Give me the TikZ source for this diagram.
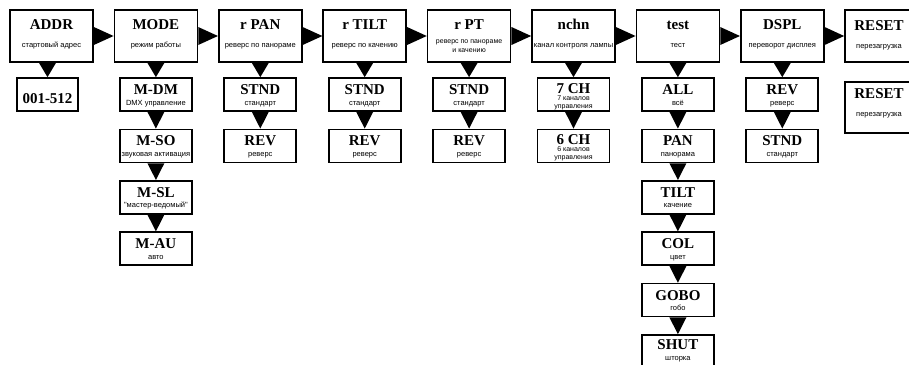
\documentclass[tikz,border=0pt]{standalone}
\usepackage{fontspec}
\setmainfont{Liberation Serif}
\newfontfamily\rusfont{Liberation Sans}
\usetikzlibrary{calc}
\tikzset{
  box/.style={draw=black, line width=1.7pt, fill=white, rectangle, inner sep=0pt},
  topbox/.style={box, minimum width=83pt, minimum height=52pt},
  subbox/.style={box, minimum width=72pt, minimum height=33pt},
  ttl/.style={anchor=base, inner sep=0pt, font=\bfseries\fontsize{15}{15}\selectfont},
  sml/.style={anchor=base, inner sep=0pt, font=\rusfont\fontsize{7.5}{8.5}\selectfont},
  smlb/.style={anchor=base, inner sep=0pt, font=\rusfont\fontsize{7}{8}\selectfont},
  tri/.style={fill=black},
}
\newcommand\TopBox[4]{%
  \node[topbox] (#1) at (#2,36) {};
  \node[ttl] (#1-t) at (#2,29.5) {#3};
  \node[sml] (#1-s) at (#2,47) {#4};
}
\newcommand\SubBox[5]{%
  \node[subbox] (#1) at (#2,#3+16.5) {};
  \node[ttl] (#1-t) at (#2,#3+16.5) {#4};
  \node[sml] (#1-s) at (#2,#3+27) {#5};
}
\newcommand\RArr[2]{\fill[tri] ($(#1.east)+(0,-9)$) -- ($(#1.east)+(0,9)$) -- (#2.west) -- cycle;}
\newcommand\DArr[2]{\fill[tri] ($(#2.north |- #1.south)+(-8.5,0)$) -- ($(#2.north |- #1.south)+(8.5,0)$) -- (#2.north) -- cycle;}
\begin{document}
\begin{tikzpicture}[x=1pt,y=-1pt]
\useasboundingbox (0,0) rectangle (909,364);
\clip (0,0) rectangle (909,364);
\fill[white] (0,0) rectangle (909,364);

% top row
\TopBox{addr}{51.5}{ADDR}{стартовый адрес}
\TopBox{mode}{155.9}{MODE}{режим работы}
\TopBox{rpan}{260.3}{r PAN}{реверс по панораме}
\TopBox{rtilt}{364.7}{r TILT}{реверс по качению}
\node[topbox] (rpt) at (469.1,36) {};
\node[ttl] (rpt-t) at (469.1,29.5) {r PT};
\node[smlb] (rpt-s1) at (469.1,43.5) {реверс по панораме};
\node[smlb] (rpt-s2) at (469.1,52.5) {и качению};
\TopBox{nchn}{573.5}{nchn}{канал контроля лампы}
\TopBox{test}{677.9}{test}{тест}
\TopBox{dspl}{782.3}{DSPL}{переворот дисплея}
\node[topbox, minimum width=67pt] (reset) at (878.5,36) {};
\node[ttl] (reset-t) at (879,30) {RESET};
\node[sml] (reset-s) at (879,48) {перезагрузка};

% ADDR column
\node[box, minimum width=61pt, minimum height=33pt] (addr1) at (47.5,94.5) {};
\node[ttl] (addr1-t) at (47.5,103) {001-512};

% MODE column
\SubBox{mdm}{155.9}{78}{M-DM}{DMX управление}
\SubBox{mso}{155.9}{129.4}{M-SO}{звуковая активация}
\SubBox{msl}{155.9}{180.8}{M-SL}{"мастер-ведомый"}
\SubBox{mau}{155.9}{232.2}{M-AU}{авто}

% r PAN column
\SubBox{rpan1}{260.3}{78}{STND}{стандарт}
\SubBox{rpan2}{260.3}{129.4}{REV}{реверс}

% r TILT column
\SubBox{rtilt1}{364.7}{78}{STND}{стандарт}
\SubBox{rtilt2}{364.7}{129.4}{REV}{реверс}

% r PT column
\SubBox{rpt1}{469.1}{78}{STND}{стандарт}
\SubBox{rpt2}{469.1}{129.4}{REV}{реверс}

% nchn column
\node[subbox] (ch7) at (573.5,94.5) {};
\node[ttl] (ch7-t) at (573.5,93.5) {7 CH};
\node[smlb] (ch7-s1) at (573.5,100.5) {7 каналов};
\node[smlb] (ch7-s2) at (573.5,108.5) {управления};
\node[subbox] (ch6) at (573.5,145.9) {};
\node[ttl] (ch6-t) at (573.5,144.9) {6 CH};
\node[smlb] (ch6-s1) at (573.5,151.9) {6 каналов};
\node[smlb] (ch6-s2) at (573.5,159.9) {управления};

% test column
\SubBox{tall}{677.9}{78}{ALL}{всё}
\SubBox{tpan}{677.9}{129.4}{PAN}{панорама}
\SubBox{ttilt}{677.9}{180.8}{TILT}{качение}
\SubBox{tcol}{677.9}{232.2}{COL}{цвет}
\SubBox{tgobo}{677.9}{283.6}{GOBO}{гобо}
\node[subbox] (tshut) at (677.9,351.5) {};
\node[ttl] (tshut-t) at (677.9,349.5) {SHUT};
\node[sml] (tshut-s) at (677.9,360) {шторка};

% DSPL column
\SubBox{dspl1}{782.3}{78}{REV}{реверс}
\SubBox{dspl2}{782.3}{129.4}{STND}{стандарт}

% RESET column
\node[box, minimum width=67pt, minimum height=51pt] (reset1) at (878.5,107.5) {};
\node[ttl] (reset1-t) at (879,98) {RESET};
\node[sml] (reset1-s) at (879,116.5) {перезагрузка};

% horizontal arrows
\RArr{addr}{mode}
\RArr{mode}{rpan}
\RArr{rpan}{rtilt}
\RArr{rtilt}{rpt}
\RArr{rpt}{nchn}
\RArr{nchn}{test}
\RArr{test}{dspl}
\RArr{dspl}{reset}

% vertical arrows
\DArr{addr}{addr1}
\DArr{mode}{mdm}
\DArr{mdm}{mso}
\DArr{mso}{msl}
\DArr{msl}{mau}
\DArr{rpan}{rpan1}
\DArr{rpan1}{rpan2}
\DArr{rtilt}{rtilt1}
\DArr{rtilt1}{rtilt2}
\DArr{rpt}{rpt1}
\DArr{rpt1}{rpt2}
\DArr{nchn}{ch7}
\DArr{ch7}{ch6}
\DArr{test}{tall}
\DArr{tall}{tpan}
\DArr{tpan}{ttilt}
\DArr{ttilt}{tcol}
\DArr{tcol}{tgobo}
\DArr{tgobo}{tshut}
\DArr{dspl}{dspl1}
\DArr{dspl1}{dspl2}
\end{tikzpicture}
\end{document}
